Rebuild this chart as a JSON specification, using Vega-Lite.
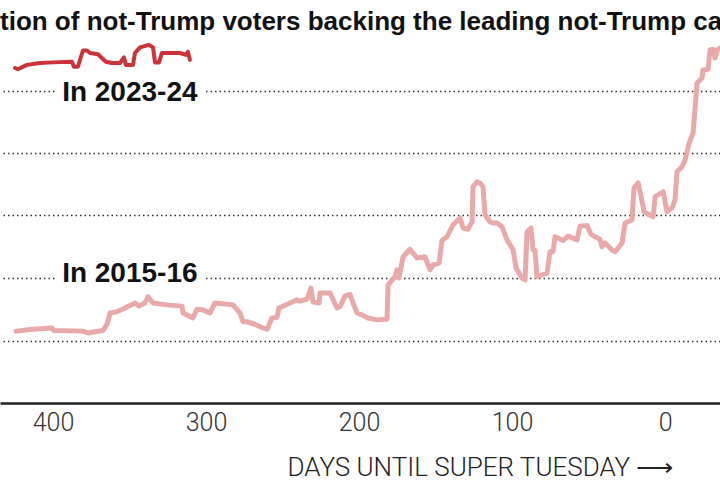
{
  "$schema": "https://vega.github.io/schema/vega-lite/v6.json",
  "width": 720,
  "height": 363,
  "autosize": {"type": "none"},
  "padding": {"left": 0, "right": 0, "top": 40, "bottom": 77},
  "background": "white",
  "title": {
    "text": "tion of not-Trump voters backing the leading not-Trump candidate",
    "anchor": "start",
    "frame": "group",
    "font": "Liberation Sans",
    "fontWeight": "bold",
    "fontSize": 26,
    "color": "#111111",
    "offset": 5
  },
  "config": {"view": {"stroke": null}},
  "datasets": {
    "d1516": [
      {"day": 424.2, "share": 11.5}, {"day": 413.1, "share": 11.8}, {"day": 400.7, "share": 12.0}, {"day": 399.3, "share": 11.6},
      {"day": 380.4, "share": 11.5}, {"day": 377.1, "share": 11.2}, {"day": 372.5, "share": 11.4}, {"day": 367.3, "share": 11.6},
      {"day": 364.7, "share": 12.6}, {"day": 362.7, "share": 14.4}, {"day": 358.2, "share": 14.6}, {"day": 352.9, "share": 15.2},
      {"day": 346.4, "share": 16.0}, {"day": 343.8, "share": 15.5}, {"day": 339.9, "share": 16.0}, {"day": 337.9, "share": 17.0},
      {"day": 334.6, "share": 16.0}, {"day": 325.5, "share": 15.7}, {"day": 315.7, "share": 15.5}, {"day": 315.0, "share": 14.4},
      {"day": 308.5, "share": 13.6}, {"day": 305.9, "share": 15.0}, {"day": 302.0, "share": 14.9}, {"day": 297.4, "share": 14.4},
      {"day": 294.1, "share": 16.0}, {"day": 282.4, "share": 15.7}, {"day": 277.8, "share": 14.4}, {"day": 275.8, "share": 13.0},
      {"day": 273.2, "share": 13.0}, {"day": 268.0, "share": 12.6}, {"day": 264.7, "share": 12.2}, {"day": 260.1, "share": 11.8},
      {"day": 256.9, "share": 13.6}, {"day": 253.6, "share": 13.7}, {"day": 252.3, "share": 15.2}, {"day": 245.1, "share": 16.0},
      {"day": 240.5, "share": 16.5}, {"day": 238.6, "share": 16.3}, {"day": 234.0, "share": 16.6}, {"day": 231.4, "share": 18.4},
      {"day": 230.1, "share": 16.2}, {"day": 226.1, "share": 16.0}, {"day": 225.5, "share": 17.6}, {"day": 218.9, "share": 17.6},
      {"day": 214.4, "share": 15.2}, {"day": 212.4, "share": 15.4}, {"day": 209.2, "share": 17.1}, {"day": 205.9, "share": 17.4},
      {"day": 203.9, "share": 16.0}, {"day": 201.3, "share": 14.4}, {"day": 198.0, "share": 14.1}, {"day": 194.1, "share": 13.6},
      {"day": 188.2, "share": 13.3}, {"day": 181.7, "share": 13.4}, {"day": 181.0, "share": 18.9}, {"day": 176.5, "share": 20.2},
      {"day": 175.2, "share": 21.3}, {"day": 173.9, "share": 20.0}, {"day": 171.2, "share": 23.4}, {"day": 166.7, "share": 24.6},
      {"day": 162.1, "share": 23.2}, {"day": 156.9, "share": 23.4}, {"day": 153.6, "share": 21.3}, {"day": 151.6, "share": 22.1},
      {"day": 147.7, "share": 22.4}, {"day": 145.8, "share": 26.0}, {"day": 142.5, "share": 26.6}, {"day": 138.6, "share": 28.5},
      {"day": 134.0, "share": 29.6}, {"day": 132.0, "share": 28.0}, {"day": 128.8, "share": 27.8}, {"day": 126.1, "share": 29.0},
      {"day": 125.5, "share": 34.6}, {"day": 122.9, "share": 35.4}, {"day": 120.9, "share": 35.2}, {"day": 119.0, "share": 34.6},
      {"day": 117.6, "share": 30.1}, {"day": 114.4, "share": 29.0}, {"day": 112.4, "share": 28.8}, {"day": 109.8, "share": 28.8},
      {"day": 106.5, "share": 28.2}, {"day": 103.3, "share": 26.1}, {"day": 99.3, "share": 24.5}, {"day": 97.4, "share": 21.6},
      {"day": 93.5, "share": 20.0}, {"day": 91.5, "share": 19.7}, {"day": 90.2, "share": 27.4}, {"day": 87.6, "share": 28.0},
      {"day": 86.3, "share": 24.5}, {"day": 85.0, "share": 24.4}, {"day": 83.7, "share": 20.2}, {"day": 77.1, "share": 20.8},
      {"day": 75.2, "share": 24.2}, {"day": 73.2, "share": 24.2}, {"day": 71.9, "share": 26.6}, {"day": 66.7, "share": 26.0},
      {"day": 63.4, "share": 26.7}, {"day": 57.5, "share": 26.1}, {"day": 55.6, "share": 28.3}, {"day": 51.0, "share": 28.4},
      {"day": 48.4, "share": 27.0}, {"day": 45.8, "share": 26.6}, {"day": 42.5, "share": 26.2}, {"day": 41.2, "share": 25.0},
      {"day": 39.2, "share": 25.6}, {"day": 34.6, "share": 24.5}, {"day": 32.7, "share": 24.2}, {"day": 28.1, "share": 25.6},
      {"day": 26.1, "share": 28.8}, {"day": 21.6, "share": 29.3}, {"day": 20.3, "share": 34.4}, {"day": 17.6, "share": 35.2},
      {"day": 15.0, "share": 32.2}, {"day": 13.7, "share": 30.6}, {"day": 7.8, "share": 29.8}, {"day": 6.5, "share": 33.0},
      {"day": 1.3, "share": 33.8}, {"day": -1.3, "share": 30.6}, {"day": -4.6, "share": 31.2}, {"day": -6.5, "share": 32.5},
      {"day": -7.8, "share": 37.0}, {"day": -11.1, "share": 37.8}, {"day": -13.1, "share": 38.9}, {"day": -15.7, "share": 41.6},
      {"day": -18.3, "share": 43.2}, {"day": -20.9, "share": 51.2}, {"day": -24.2, "share": 52.0}, {"day": -24.8, "share": 53.3},
      {"day": -28.1, "share": 53.4}, {"day": -29.4, "share": 56.5}, {"day": -31.4, "share": 56.6}, {"day": -32.7, "share": 55.2},
      {"day": -34.0, "share": 56.5}, {"day": -35.9, "share": 56.8}, {"day": -38.6, "share": 57.1}
    ],
    "d2324": [
      {"day": 424.8, "share": 53.6}, {"day": 422.9, "share": 53.4}, {"day": 417.0, "share": 54.1}, {"day": 408.5, "share": 54.4},
      {"day": 400.0, "share": 54.5}, {"day": 387.6, "share": 54.6}, {"day": 386.3, "share": 53.8}, {"day": 383.7, "share": 53.8},
      {"day": 380.4, "share": 56.4}, {"day": 377.8, "share": 56.4}, {"day": 375.8, "share": 56.0}, {"day": 370.6, "share": 55.8},
      {"day": 365.4, "share": 54.6}, {"day": 361.4, "share": 54.4}, {"day": 356.2, "share": 54.4}, {"day": 353.6, "share": 55.3},
      {"day": 352.3, "share": 54.1}, {"day": 347.7, "share": 54.1}, {"day": 346.4, "share": 56.0}, {"day": 343.1, "share": 56.9},
      {"day": 337.3, "share": 57.3}, {"day": 334.6, "share": 56.9}, {"day": 333.3, "share": 54.5}, {"day": 330.7, "share": 54.5},
      {"day": 328.8, "share": 56.0}, {"day": 317.0, "share": 56.0}, {"day": 313.1, "share": 55.7}, {"day": 311.8, "share": 56.2},
      {"day": 310.5, "share": 54.9}
    ],
    "labels": [
      {"day": 394, "share": 49.6, "label": "In 2023-24"},
      {"day": 394, "share": 20.6, "label": "In 2015-16"}
    ]
  },
  "layer": [
    {
      "data": {"name": "d1516"},
      "mark": {"type": "line", "color": "#eaa9a9", "strokeWidth": 5, "clip": true, "strokeJoin": "round", "strokeCap": "round"},
      "encoding": {
        "x": {
          "field": "day", "type": "quantitative",
          "scale": {"domain": [-35.9, 434.6], "reverse": true, "nice": false, "zero": false},
          "axis": {
            "values": [400, 300, 200, 100, 0],
            "title": "DAYS UNTIL SUPER TUESDAY ⟶",
            "grid": false, "ticks": false,
            "domainColor": "#222222", "domainWidth": 2.5,
            "labelFont": "Roboto", "labelFontWeight": 300, "labelFontSize": 25, "labelColor": "#333333",
            "labelPadding": 7, "labelFlush": false,
            "titleFont": "Roboto", "titleFontWeight": 300, "titleFontSize": 26, "titleColor": "#222222",
            "titleX": 480, "titleY": 64, "titleAlign": "center", "titleBaseline": "middle"
          }
        },
        "y": {
          "field": "share", "type": "quantitative",
          "scale": {"domain": [0, 58.08], "nice": false},
          "axis": {
            "values": [10, 20, 30, 40, 50], "labels": false, "ticks": false, "domain": false, "title": null,
            "grid": true, "gridDash": [1.5, 3], "gridColor": "#333333", "gridWidth": 1.3
          }
        }
      }
    },
    {
      "data": {"name": "d2324"},
      "mark": {"type": "line", "color": "#cc3338", "strokeWidth": 4, "clip": true, "strokeJoin": "round", "strokeCap": "round"},
      "encoding": {
        "x": {"field": "day", "type": "quantitative"},
        "y": {"field": "share", "type": "quantitative"}
      }
    },
    {
      "data": {"name": "labels"},
      "mark": {"type": "text", "align": "left", "baseline": "middle", "font": "Liberation Sans", "fontWeight": "bold", "fontSize": 28, "color": "white", "stroke": "white", "strokeWidth": 14},
      "encoding": {
        "x": {"field": "day", "type": "quantitative"},
        "y": {"field": "share", "type": "quantitative"},
        "text": {"field": "label"}
      }
    },
    {
      "data": {"name": "labels"},
      "mark": {"type": "text", "align": "left", "baseline": "middle", "font": "Liberation Sans", "fontWeight": "bold", "fontSize": 28, "color": "#111111"},
      "encoding": {
        "x": {"field": "day", "type": "quantitative"},
        "y": {"field": "share", "type": "quantitative"},
        "text": {"field": "label"}
      }
    }
  ]
}
